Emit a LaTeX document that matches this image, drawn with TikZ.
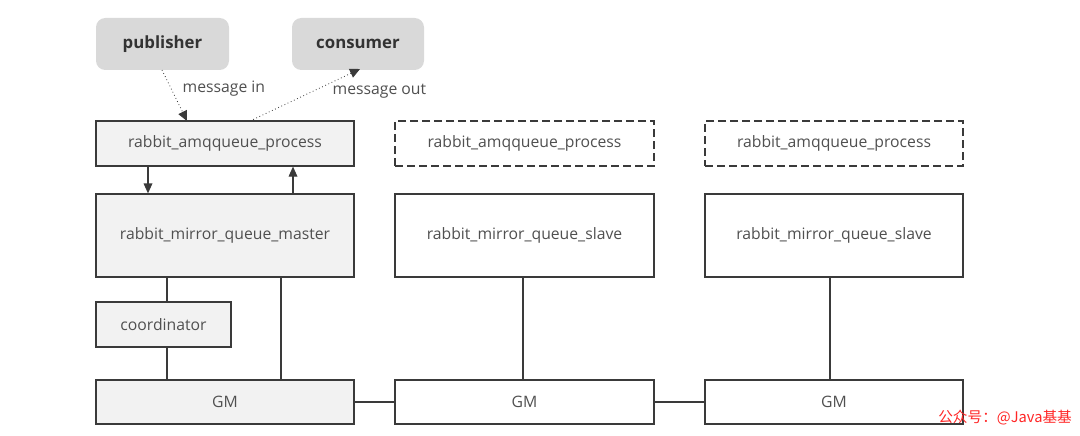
\documentclass[tikz,border=0pt]{standalone}
\usepackage{fontspec}
\setmainfont{Open Sans}
\newfontfamily\cjk{Noto Sans CJK SC}
\usetikzlibrary{arrows.meta}
\definecolor{boxfill}{HTML}{F2F2F2}
\definecolor{actfill}{HTML}{D9D9D9}
\definecolor{edge}{HTML}{3A3A3A}
\definecolor{txt}{HTML}{505050}
\begin{document}
\begin{tikzpicture}[x=0.75pt,y=-0.75pt,
  boxbase/.style={draw=edge,line width=0.9pt,inner sep=0pt,text=txt,font=\fontsize{11.8pt}{13pt}\selectfont},
  filledbox/.style={boxbase,fill=boxfill},
  plainbox/.style={boxbase,fill=white},
  dashbox/.style={boxbase,fill=white,dash pattern=on 6pt off 3pt},
  actor/.style={fill=actfill,rounded corners=7pt,text=black!80,font=\fontsize{12.6pt}{14pt}\selectfont\bfseries,inner sep=0pt},
  conn/.style={draw=edge,line width=0.9pt},
  arr/.style={conn,-{Triangle[length=7.5pt,width=6.5pt]}},
  msg/.style={draw=edge,line width=0.6pt,dotted,-{Triangle[length=7.5pt,width=7pt,line width=0.6pt]}},
  lbl/.style={text=txt,font=\fontsize{11.8pt}{13pt}\selectfont}]
\useasboundingbox[fill=white] (0,0) rectangle (1080,435);
% actors
\node[actor,minimum width=133*0.75pt,minimum height=52*0.75pt] (pub) at (162.5,44) {publisher};
\node[actor,minimum width=132*0.75pt,minimum height=52*0.75pt] (con) at (358,44) {consumer};
% row 1
\node[filledbox,minimum width=258*0.75pt,minimum height=45*0.75pt] (amq1) at (225,143.5) {rabbit\_amqqueue\_process};
\node[dashbox,minimum width=259*0.75pt,minimum height=45*0.75pt] (amq2) at (524.5,143.5) {rabbit\_amqqueue\_process};
\node[dashbox,minimum width=258*0.75pt,minimum height=45*0.75pt] (amq3) at (834,143.5) {rabbit\_amqqueue\_process};
% row 2
\node[filledbox,minimum width=258*0.75pt,minimum height=83*0.75pt] (mas) at (225,235.5) {rabbit\_mirror\_queue\_master};
\node[plainbox,minimum width=259*0.75pt,minimum height=83*0.75pt] (sl2) at (524.5,235.5) {rabbit\_mirror\_queue\_slave};
\node[plainbox,minimum width=258*0.75pt,minimum height=83*0.75pt] (sl3) at (834,235.5) {rabbit\_mirror\_queue\_slave};
% coordinator
\node[filledbox,minimum width=135*0.75pt,minimum height=45*0.75pt] (coord) at (163.5,324.5) {coordinator};
% GM row
\node[filledbox,minimum width=258*0.75pt,minimum height=44*0.75pt] (gm1) at (225,402) {GM};
\node[plainbox,minimum width=259*0.75pt,minimum height=44*0.75pt] (gm2) at (524.5,402) {GM};
\node[plainbox,minimum width=258*0.75pt,minimum height=44*0.75pt] (gm3) at (834,402) {GM};
% message arrows
\coordinate (pubout) at (162,70);
\coordinate (amqin) at (187,121);
\coordinate (amqout) at (250,121);
\coordinate (conin) at (360,69);
\draw[msg] (pubout) -- (amqin);
\draw[msg] (amqout) -- (conin);
\node[lbl,anchor=west] (min) at (178,89) {message in};
\node[lbl,anchor=west] (mout) at (328,91) {message out};
% vertical connectors
\draw[arr] (amq1.south -| 148,0) -- (mas.north -| 148,0);
\draw[arr] (mas.north -| 293,0) -- (amq1.south -| 293,0);
\draw[conn] (mas.south -| 167,0) -- (coord.north -| 167,0);
\draw[conn] (coord.south -| 167,0) -- (gm1.north -| 167,0);
\draw[conn] (mas.south -| 281,0) -- (gm1.north -| 281,0);
\draw[conn] (sl2.south -| 523,0) -- (gm2.north -| 523,0);
\draw[conn] (sl3.south -| 830,0) -- (gm3.north -| 830,0);
\draw[conn] (gm1.east) -- (gm2.west);
\draw[conn] (gm2.east) -- (gm3.west);
% watermark
\node[anchor=west,text=red!85,font=\cjk\fontsize{11pt}{12pt}\selectfont,inner sep=0pt] (wm) at (938,418) {公众号：@Java基基};
\end{tikzpicture}
\end{document}
